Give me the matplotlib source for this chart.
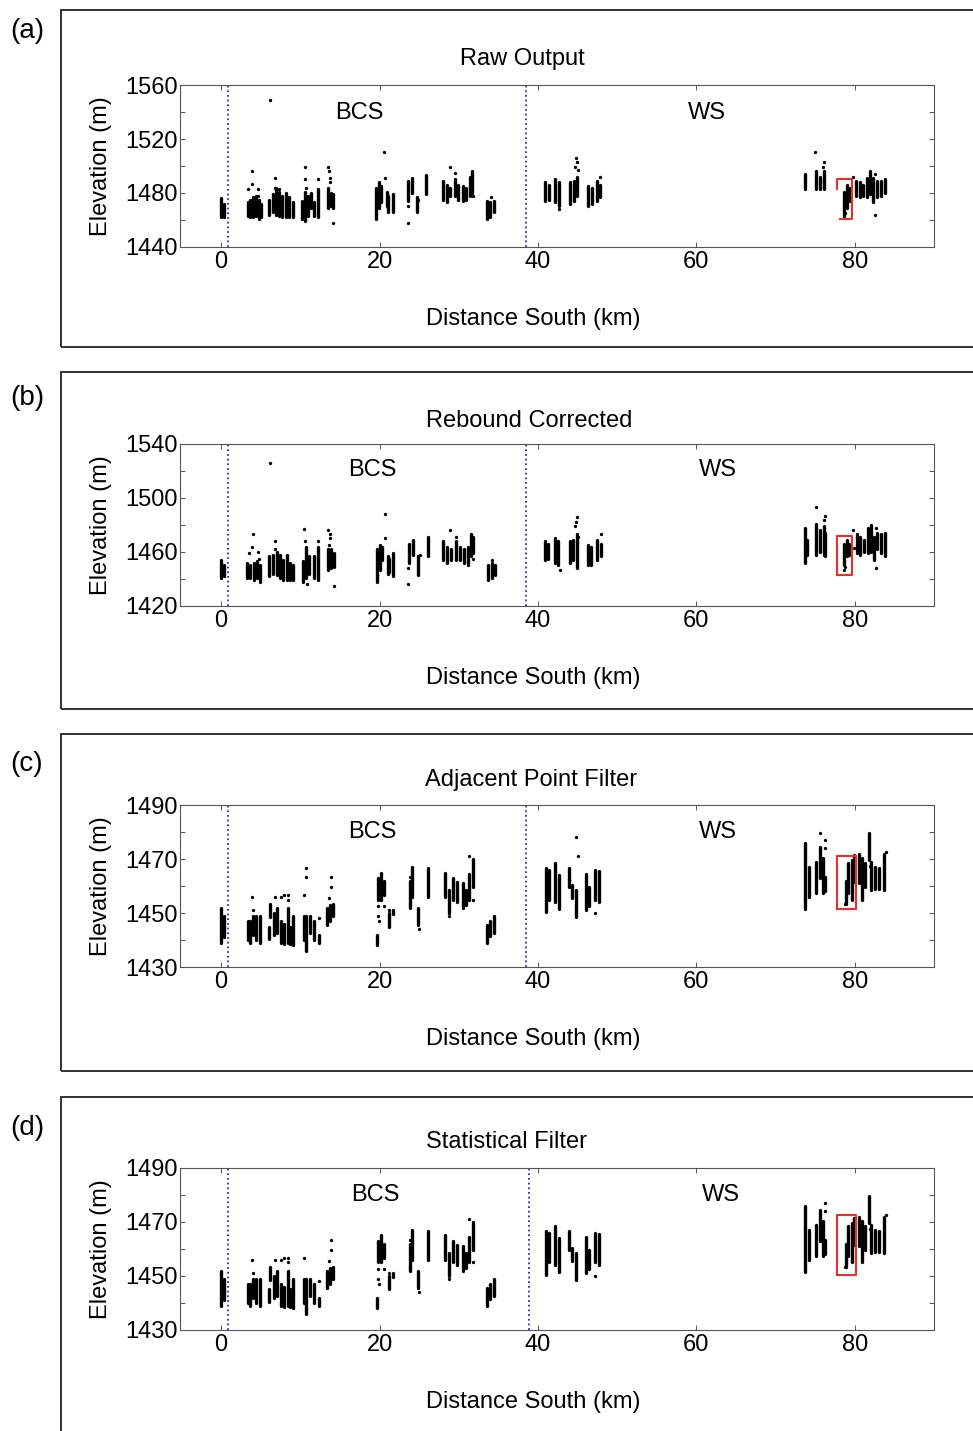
"""
Four-panel elevation profile along the flight line: raw output, rebound
corrected, adjacent point filter and statistical filter.
"""
import matplotlib

matplotlib.use("Agg")

import matplotlib.pyplot as plt
from matplotlib.patches import Rectangle

plt.rcParams["font.family"] = ["Liberation Sans", "DejaVu Sans"]

FONT = 17
W, H = 973, 1431

# streaks of returns: (distance km, lowest elevation m, highest elevation m)
RAW_STREAKS = [
    (0.0, 1462, 1476), (0.3, 1462, 1472),
    (3.35, 1463, 1473), (3.6, 1462, 1475), (4.0, 1462, 1477), (4.4, 1463, 1478),
    (4.8, 1461, 1475), (5.0, 1462, 1472),
    (6.05, 1464, 1475), (6.5, 1466, 1479), (6.9, 1464, 1484), (7.3, 1463, 1481),
    (7.7, 1462, 1478), (8.15, 1462, 1480), (8.6, 1462, 1477), (9.1, 1462, 1473),
    (10.25, 1461, 1474), (10.55, 1459, 1481), (10.9, 1463, 1478), (11.4, 1469, 1480),
    (11.7, 1463, 1473), (12.2, 1462, 1483),
    (13.5, 1469, 1484), (13.9, 1470, 1480), (14.15, 1469, 1479),
    (19.6, 1461, 1484), (19.9, 1469, 1488), (20.2, 1473, 1485), (20.9, 1470, 1481),
    (21.1, 1466, 1478), (21.7, 1466, 1479),
    (23.65, 1474, 1489), (24.15, 1480, 1491), (24.7, 1466, 1477),
    (25.9, 1479, 1493),
    (28.0, 1475, 1489), (28.45, 1473, 1486), (28.95, 1478, 1484), (29.55, 1478, 1490),
    (29.9, 1475, 1486), (30.5, 1474, 1485), (30.95, 1475, 1484), (31.4, 1478, 1492),
    (31.7, 1480, 1496),
    (33.55, 1461, 1474), (34.0, 1462, 1473), (34.4, 1466, 1474),
    (40.9, 1474, 1488), (41.35, 1475, 1486), (42.2, 1473, 1490), (42.6, 1470, 1488),
    (44.0, 1472, 1488), (44.5, 1474, 1489), (44.9, 1478, 1492), (46.3, 1470, 1485),
    (46.8, 1472, 1484), (47.5, 1474, 1489), (47.85, 1477, 1486),
    (73.7, 1483, 1494), (75.1, 1483, 1496), (75.6, 1483, 1492), (76.1, 1483, 1496),
    (78.6, 1464, 1481), (79.0, 1469, 1486), (79.4, 1474, 1484),
    (80.2, 1478, 1489), (80.6, 1477, 1488), (81.05, 1478, 1486), (81.55, 1477, 1491),
    (81.9, 1479, 1496), (82.3, 1473, 1491), (82.75, 1477, 1489), (83.25, 1478, 1489),
    (83.8, 1480, 1490),
]
RAW_DOTS = [
    (3.9, 1496), (3.35, 1483), (4.7, 1483), (4.6, 1478), (3.85, 1487),
    (6.2, 1549), (6.75, 1491), (6.85, 1484), (7.25, 1483),
    (10.55, 1499), (10.6, 1490), (12.25, 1490), (10.75, 1484),
    (13.5, 1499), (13.6, 1496), (13.7, 1491), (13.8, 1488), (14.1, 1458),
    (20.6, 1510), (20.7, 1491),
    (23.55, 1470), (23.55, 1458), (24.9, 1475),
    (28.9, 1499), (29.55, 1495), (31.75, 1478),
    (34.1, 1477),
    (42.7, 1468), (44.8, 1506), (44.95, 1503), (44.65, 1499), (45.0, 1497), (47.85, 1492),
    (75.0, 1510), (76.1, 1503), (76.0, 1499),
    (78.6, 1463), (78.7, 1465), (78.65, 1470),
    (82.5, 1464), (79.8, 1492), (82.5, 1494),
]

REBOUND_STREAKS = [
    (0.0, 1441, 1454), (0.35, 1442, 1450),
    (3.3, 1441, 1452), (3.7, 1441, 1450), (4.1, 1439, 1452), (4.55, 1441, 1453),
    (4.9, 1438, 1450),
    (6.1, 1442, 1457), (6.55, 1444, 1458), (7.0, 1443, 1460), (7.4, 1441, 1458),
    (7.8, 1439, 1454), (8.25, 1439, 1458), (8.65, 1439, 1452), (9.1, 1439, 1450),
    (10.3, 1438, 1453), (10.7, 1441, 1464), (11.05, 1444, 1457), (11.7, 1441, 1457),
    (12.2, 1439, 1464),
    (13.5, 1447, 1462), (13.85, 1448, 1462), (14.2, 1449, 1459),
    (19.65, 1438, 1462), (20.0, 1447, 1465), (20.3, 1454, 1464), (21.0, 1444, 1457),
    (21.25, 1445, 1455), (21.75, 1442, 1459),
    (23.75, 1452, 1466), (24.2, 1458, 1469), (24.8, 1443, 1457),
    (26.05, 1457, 1471),
    (28.05, 1454, 1468), (28.5, 1452, 1464), (29.0, 1454, 1462), (29.6, 1454, 1468),
    (30.1, 1454, 1464), (30.7, 1452, 1462), (31.1, 1452, 1464), (31.5, 1457, 1473),
    (31.75, 1459, 1471),
    (33.75, 1439, 1450), (34.15, 1441, 1452), (34.6, 1443, 1450),
    (40.9, 1454, 1468), (41.3, 1455, 1466), (42.15, 1452, 1470), (42.55, 1450, 1468),
    (44.0, 1452, 1468), (44.45, 1454, 1469), (44.9, 1448, 1473), (46.3, 1450, 1465),
    (46.65, 1450, 1464), (47.5, 1454, 1469), (47.9, 1457, 1466),
    (73.65, 1452, 1478), (74.0, 1458, 1469), (75.05, 1458, 1481), (75.55, 1460, 1476),
    (76.05, 1458, 1479), (76.3, 1457, 1474),
    (78.6, 1450, 1466), (79.0, 1457, 1469), (79.3, 1458, 1466),
    (80.25, 1459, 1473), (80.65, 1458, 1471), (81.1, 1460, 1469), (81.65, 1459, 1478),
    (82.0, 1460, 1480), (82.4, 1454, 1471), (82.8, 1462, 1474), (83.3, 1459, 1473),
    (83.8, 1457, 1474),
]
REBOUND_DOTS = [
    (4.0, 1473), (3.85, 1464), (3.5, 1459), (4.65, 1460), (4.75, 1455),
    (6.2, 1526), (6.75, 1468), (6.75, 1462),
    (10.45, 1477), (10.55, 1468), (12.2, 1468), (10.8, 1436),
    (13.5, 1476), (13.7, 1473), (13.8, 1470), (13.6, 1465), (14.2, 1435),
    (20.7, 1488), (20.7, 1470),
    (23.65, 1448), (23.65, 1436), (25.05, 1458),
    (28.9, 1476), (29.6, 1471), (31.2, 1450), (31.85, 1455),
    (34.25, 1454),
    (42.8, 1447), (44.9, 1486), (44.8, 1482), (44.7, 1479), (45.05, 1471), (47.9, 1473),
    (75.05, 1493), (76.2, 1487), (76.15, 1484),
    (78.6, 1447), (78.7, 1449), (79.8, 1476), (79.85, 1463),
    (82.65, 1448), (82.65, 1478),
]

ADJACENT_STREAKS = [
    (0.0, 1439, 1452), (0.35, 1441, 1449),
    (3.4, 1440, 1447), (3.7, 1439, 1447), (4.05, 1442, 1449), (4.45, 1440, 1449),
    (4.9, 1439, 1449),
    (6.0, 1440.5, 1445), (6.2, 1448.5, 1453.5), (6.65, 1442, 1450), (7.05, 1442.5, 1452),
    (7.5, 1439, 1447), (7.9, 1438.5, 1446), (8.4, 1439, 1452), (8.75, 1438.5, 1445),
    (9.1, 1438, 1449),
    (10.4, 1440, 1449), (10.75, 1436, 1449), (11.25, 1442.5, 1449), (11.7, 1440, 1447),
    (12.3, 1439, 1442),
    (13.35, 1445.5, 1452), (13.8, 1447, 1453), (14.1, 1449, 1453.5),
    (19.65, 1438, 1442), (19.85, 1455, 1463), (20.2, 1455, 1465), (20.6, 1456.5, 1462),
    (21.15, 1445, 1450), (21.75, 1449.5, 1451),
    (23.8, 1452, 1462), (24.15, 1456, 1467), (24.8, 1445.5, 1452),
    (26.05, 1456, 1466.5),
    (28.3, 1456, 1465), (28.8, 1450, 1458.5), (29.3, 1455, 1463), (29.75, 1454, 1461.5),
    (30.5, 1452, 1461), (30.9, 1453, 1458.5), (31.35, 1455, 1464.5), (31.75, 1459.5, 1470),
    (33.6, 1439, 1445.5), (34.0, 1441.5, 1447), (34.45, 1442.5, 1449),
    (40.95, 1450.5, 1466.5), (41.35, 1455, 1466), (42.1, 1454, 1468.5), (42.6, 1451.5, 1464),
    (43.95, 1459.5, 1466.5), (44.25, 1455.5, 1460.5), (44.8, 1448.5, 1458.5),
    (46.1, 1451, 1464.5), (46.45, 1452.5, 1459.5), (47.15, 1455, 1466), (47.7, 1454, 1465.5),
    (73.75, 1451.5, 1476), (74.2, 1456, 1467), (75.1, 1457.5, 1469), (75.55, 1463, 1474.5),
    (75.95, 1457.5, 1470.5), (76.3, 1458, 1463.5),
    (78.85, 1453.5, 1462), (79.15, 1457.5, 1468.5), (79.6, 1455, 1469.5), (79.9, 1461.5, 1471.5),
    (80.5, 1461, 1472), (80.9, 1455, 1470.5), (81.35, 1459.5, 1468.5), (81.8, 1469.5, 1479.5),
    (82.1, 1458.5, 1469), (82.5, 1459, 1467), (83.05, 1459, 1466.5), (83.75, 1458.5, 1472),
]
ADJACENT_DOTS = [
    (3.95, 1456), (4.05, 1451),
    (6.75, 1456), (7.5, 1456), (7.9, 1456.5), (8.4, 1456.5), (8.4, 1455),
    (10.75, 1466.5), (10.75, 1463.5), (10.5, 1456.5), (12.3, 1448),
    (13.85, 1463.5), (13.85, 1459.5), (13.55, 1455.5),
    (19.85, 1452.5), (19.85, 1449), (19.9, 1447), (20.6, 1452.5), (21.15, 1451),
    (23.8, 1453), (24.95, 1444), (23.8, 1463.5),
    (31.3, 1471), (31.8, 1455), (28.8, 1449),
    (44.8, 1478), (45.1, 1471), (47.25, 1450),
    (75.55, 1479.5), (76.2, 1477), (76.2, 1474),
    (78.7, 1453.5), (78.85, 1456), (79.6, 1455.5),
    (83.9, 1472.5), (81.9, 1467.5),
]
# points dropped by the statistical filter
STAT_REJECTED = [(10.75, 1466.5), (10.75, 1463.5), (44.8, 1478), (45.1, 1471), (75.55, 1479.5)]
STAT_DOTS = [p for p in ADJACENT_DOTS if p not in STAT_REJECTED]

PANELS = [
    dict(tag="(a)", title="Raw Output", streaks=RAW_STREAKS, dots=RAW_DOTS,
         ylim=(1440, 1560), yticks=[1440, 1480, 1520, 1560], yminor=[1460, 1500, 1540],
         bounds=(0.9, 38.5), bcs=(17.5, 1539), ws=(61.3, 1539),
         box=[(77.8, 1483.2), (77.8, 1490.7), (79.6, 1490.7), (79.6, 1460.7), (78.1, 1460.7)],
         top=85, frame=(10, 347), title_x=522, title_y=59, tag_y=31),
    dict(tag="(b)", title="Rebound Corrected", streaks=REBOUND_STREAKS, dots=REBOUND_DOTS,
         ylim=(1420, 1540), yticks=[1420, 1460, 1500, 1540], yminor=[1440, 1480, 1520],
         bounds=(0.9, 38.5), bcs=(19.1, 1520.5), ws=(62.7, 1520.5),
         box=[(77.8, 1443.0), (77.8, 1472.1), (79.6, 1472.1), (79.6, 1443.0), (77.8, 1443.0)],
         top=444, frame=(372, 709), title_x=529, title_y=421, tag_y=398),
    dict(tag="(c)", title="Adjacent Point Filter", streaks=ADJACENT_STREAKS, dots=ADJACENT_DOTS,
         ylim=(1430, 1490), yticks=[1430, 1450, 1470, 1490], yminor=[1440, 1460, 1480],
         bounds=(0.9, 38.5), bcs=(19.1, 1480), ws=(62.7, 1480),
         box=[(77.8, 1451.3), (77.8, 1471.2), (80.2, 1471.2), (80.2, 1451.3), (77.8, 1451.3)],
         top=805, frame=(734, 1071), title_x=531, title_y=780, tag_y=764),
    dict(tag="(d)", title="Statistical Filter", streaks=ADJACENT_STREAKS, dots=STAT_DOTS,
         ylim=(1430, 1490), yticks=[1430, 1450, 1470, 1490], yminor=[1440, 1460, 1480],
         bounds=(0.9, 38.9), bcs=(19.4, 1480), ws=(63.1, 1480),
         box=[(77.8, 1450.2), (77.8, 1472.5), (80.2, 1472.5), (80.2, 1450.2), (77.8, 1450.2)],
         top=1168, frame=(1097, 1460), title_x=506, title_y=1142, tag_y=1128),
]

AX_LEFT, AX_RIGHT, AX_HEIGHT = 180, 934, 162
XLIM = (-5.2, 90)
XTICKS = [0, 20, 40, 60, 80]


def draw_panel(fig, p):
    top = p["top"]
    ax = fig.add_axes([AX_LEFT / W, 1 - (top + AX_HEIGHT) / H,
                       (AX_RIGHT - AX_LEFT) / W, AX_HEIGHT / H])

    xs = [s[0] for s in p["streaks"]]
    lo = [s[1] for s in p["streaks"]]
    hi = [s[2] for s in p["streaks"]]
    ax.vlines(xs, lo, hi, colors="black", linewidth=2.4, capstyle="round", zorder=3)
    ax.plot([d[0] for d in p["dots"]], [d[1] for d in p["dots"]], "o",
            color="black", markersize=2.4, markeredgewidth=0, zorder=3)

    for b in p["bounds"]:
        ax.axvline(b, color="#2f2fb4", linestyle=(0, (1.0, 1.6)), linewidth=1.3, zorder=2)

    bx = [v[0] for v in p["box"]]
    by = [v[1] for v in p["box"]]
    ax.plot(bx, by, color="#e8302a", linewidth=1.5, zorder=4)

    ax.text(*p["bcs"], "BCS", fontsize=FONT, ha="center", va="center")
    ax.text(*p["ws"], "WS", fontsize=FONT, ha="center", va="center")

    ax.set_xlim(*XLIM)
    ax.set_ylim(*p["ylim"])
    ax.set_xticks(XTICKS)
    ax.set_yticks(p["yticks"])
    ax.set_yticks(p["yminor"], minor=True)
    ax.tick_params(which="both", direction="in", top=True, right=True,
                   length=3.8, width=0.7, color="#555555", labelsize=FONT)
    ax.tick_params(axis="y", pad=1.5)
    ax.tick_params(axis="x", pad=3)
    for sp in ax.spines.values():
        sp.set_color("#555555")
        sp.set_linewidth(0.8)

    ax.text(-79 / (AX_RIGHT - AX_LEFT), 0.5, "Elevation (m)", transform=ax.transAxes,
            rotation=90, fontsize=FONT, ha="center", va="center")
    fig.text(533 / W, 1 - (top + AX_HEIGHT + 72) / H, "Distance South (km)",
             fontsize=FONT, ha="center", va="center")
    fig.text(p["title_x"] / W, 1 - p["title_y"] / H, p["title"],
             fontsize=FONT, ha="center", va="center")
    fig.text(27 / W, 1 - p["tag_y"] / H, p["tag"], fontsize=20, ha="center", va="center")

    f0, f1 = p["frame"]
    fig.patches.append(Rectangle((61 / W, 1 - f1 / H), 1.2, (f1 - f0) / H,
                                 transform=fig.transFigure, fill=False,
                                 edgecolor="#333333", linewidth=1.4))


def main():
    fig = plt.figure(figsize=(W / 100, H / 100), dpi=100)
    for p in PANELS:
        draw_panel(fig, p)
    fig.savefig("out.png", dpi=100, facecolor="white")


if __name__ == "__main__":
    main()
